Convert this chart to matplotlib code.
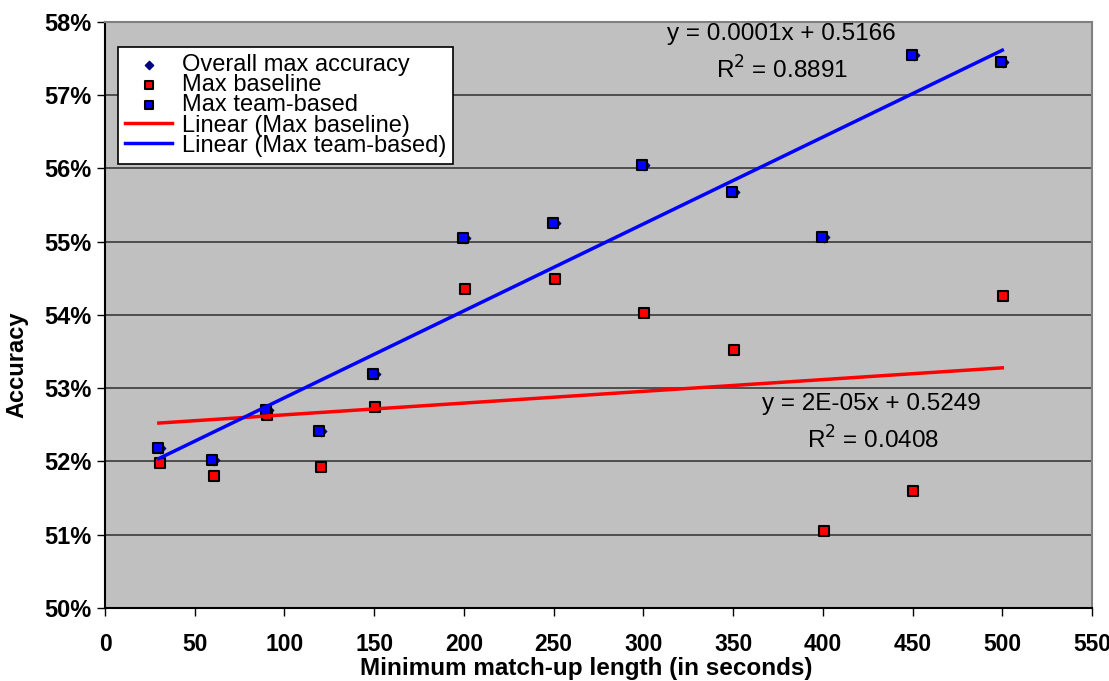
'''Accuracy vs minimum match-up length, with linear trend lines'''

import numpy as np
import matplotlib as ma
ma.use('agg')
import matplotlib.pyplot as plt
from matplotlib.ticker import FuncFormatter

lengths = [30, 60, 90, 120, 150, 200, 250, 300, 350, 400, 450, 500]
max_baseline = [51.98, 51.80, 52.63, 51.92, 52.74, 54.35, 54.49, 54.03, 53.52, 51.05, 51.60, 54.26]
max_team = [52.18, 52.02, 52.70, 52.42, 53.19, 55.05, 55.26, 56.05, 55.68, 55.06, 57.55, 57.45]
overall_max = [max(a, b) for a, b in zip(max_baseline, max_team)]

eq_team = ['y = 0.0001x + 0.5166', 'R$^2$ = 0.8891']
eq_base = ['y = 2E-05x + 0.5249', 'R$^2$ = 0.0408']


def main():
    plt.rcParams['font.family'] = ['Liberation Sans', 'DejaVu Sans']
    fig = plt.figure(figsize=(11.09, 6.81), dpi=100)
    ax = fig.add_axes([0.0947, 0.1072, 0.89, 0.8605])
    ax.set_facecolor('#c0c0c0')

    x = np.array(lengths, dtype=float)
    ax.scatter(x + 0.6, overall_max, marker='D', s=28, c='#000080', zorder=3,
               label='Overall max accuracy')
    ax.scatter(x + 0.5, max_baseline, marker='s', s=60, c='#ff0000',
               edgecolors='black', linewidths=1.5, zorder=4, label='Max baseline')
    ax.scatter(x - 0.5, max_team, marker='s', s=60, c='#0000ff',
               edgecolors='black', linewidths=1.5, zorder=4, label='Max team-based')

    xs = np.array([lengths[0], lengths[-1]], dtype=float)
    kb = np.polyfit(x, max_baseline, 1)
    kt = np.polyfit(x, max_team, 1)
    ax.plot(xs, np.polyval(kb, xs), c='#ff0000', lw=2.5, zorder=5,
            label='Linear (Max baseline)')
    ax.plot(xs, np.polyval(kt, xs), c='#0000ff', lw=2.5, zorder=5,
            label='Linear (Max team-based)')

    ax.text(377, 57.84, eq_team[0], fontsize=17.5, ha='center', va='center')
    ax.text(377, 57.35, eq_team[1], fontsize=17.5, ha='center', va='center')
    ax.text(427, 52.79, eq_base[0], fontsize=17.5, ha='center', va='center')
    ax.text(428, 52.30, eq_base[1], fontsize=17.5, ha='center', va='center')

    ax.set_xlim(0, 550)
    ax.set_ylim(50, 58)
    ax.set_xticks(range(0, 551, 50))
    ax.set_yticks(range(50, 59))
    ax.yaxis.set_major_formatter(FuncFormatter(lambda v, p: '%d%%' % v))
    ax.grid(axis='y', color='#3a3a3a', lw=1.2)
    ax.set_axisbelow(True)
    for s in ax.spines.values():
        s.set_color('#808080')
        s.set_linewidth(1.5)
    ax.spines['left'].set_color('black')
    ax.spines['bottom'].set_color('black')
    ax.tick_params(direction='out', length=6, width=1, pad=4)
    ax.tick_params(axis='x', pad=12)
    for lab in ax.get_yticklabels():
        lab.set_fontsize(17)
        lab.set_fontweight('bold')
    for lab in ax.get_xticklabels():
        lab.set_fontsize(16.5)
        lab.set_fontweight('bold')

    ax.set_xlabel('Minimum match-up length (in seconds)', fontsize=17.5,
                  fontweight='bold')
    ax.set_ylabel('Accuracy', fontsize=17, fontweight='bold')
    ax.xaxis.set_label_coords(0.488, -0.083)
    ax.yaxis.set_label_coords(-0.078, 0.415)

    leg = ax.legend(loc='upper left', bbox_to_anchor=(0.013, 0.957), fontsize=17,
                    frameon=True, fancybox=False, framealpha=1, edgecolor='black',
                    labelspacing=-0.08, handlelength=2.0, handletextpad=0.4,
                    borderpad=0.3, borderaxespad=0, markerscale=0.8)
    leg.get_frame().set_linewidth(1.2)

    fig.savefig('out.png', dpi=100)


if __name__ == "__main__":
    main()
